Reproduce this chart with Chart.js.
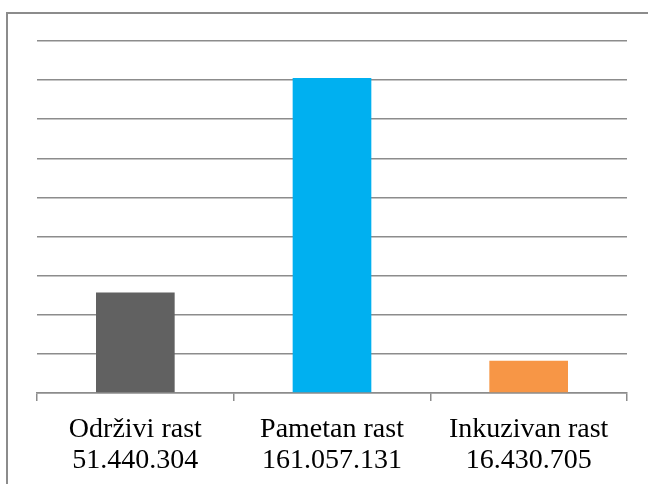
<!DOCTYPE html>
<html>
<head>
<meta charset="utf-8">
<script src="https://cdn.jsdelivr.net/npm/chart.js@4"></script>
<style>
  html, body { margin: 0; padding: 0; background: #fff; overflow: hidden; }
  #wrap { position: relative; width: 648px; height: 484px; }
  #frame {
    position: absolute; left: 6px; top: 12px; width: 700px; height: 520px;
    border: 2px solid #8c8c8c; box-sizing: border-box;
  }
  canvas { position: absolute; left: 0; top: 0; }
</style>
</head>
<body>
<div id="wrap">
  <div id="frame"></div>
  <canvas id="chart" width="648" height="484"></canvas>
</div>
<script>
// Chart data.
const categories = ["Održivi rast", "Pametan rast", "Inkuzivan rast"];
const valueLabels = ["51.440.304", "161.057.131", "16.430.705"];
const values = [51440304, 161057131, 16430705];
const barColors = ["#616161", "#00b0f0", "#f79646"];

document.addEventListener("DOMContentLoaded", () => {
  const ctx = document.getElementById("chart").getContext("2d");

  new Chart(ctx, {
    type: "bar",
    data: {
      labels: categories.map((c, i) => [c, valueLabels[i]]),
      datasets: [{
        data: values,
        backgroundColor: barColors,
        categoryPercentage: 1,
        barPercentage: 0.4
      }]
    },
    options: {
      responsive: false,
      animation: false,
      layout: { padding: { left: 37, right: 21, top: 41, bottom: 0 } },
      plugins: { legend: { display: false }, tooltip: { enabled: false } },
      scales: {
        x: {
          afterFit: scale => { scale.height = 91; },
          grid: {
            offset: true,
            drawOnChartArea: false,
            drawTicks: true,
            tickLength: 8,
            color: "#8c8c8c",
            lineWidth: 1.5
          },
          border: { color: "#8c8c8c", width: 1.5 },
          ticks: {
            color: "#000",
            padding: 13,
            maxRotation: 0,
            font: { family: "Liberation Serif", size: 28, lineHeight: 1.1 }
          }
        },
        y: {
          min: 0,
          max: 180000000,
          afterFit: scale => { scale.width = 0; },
          ticks: { display: false, stepSize: 20000000 },
          grid: { color: "#8c8c8c", lineWidth: 1.5, drawTicks: false },
          border: { display: false }
        }
      }
    }
  });
});
</script>
</body>
</html>
